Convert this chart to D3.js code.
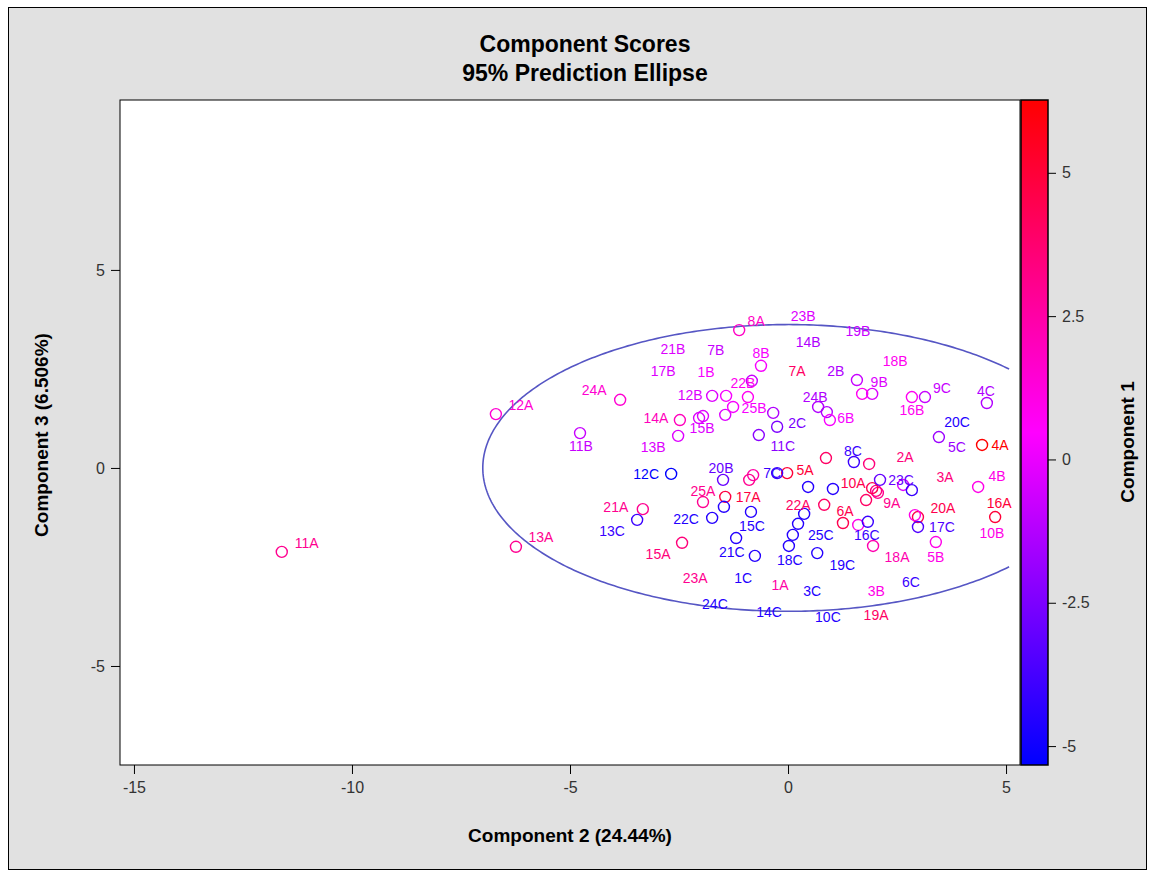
<!DOCTYPE html>
<html>
<head>
<meta charset="utf-8">
<script src="https://cdn.jsdelivr.net/npm/d3@7"></script>
<style>
  body { margin: 0; background: #ffffff; }
  text { font-family: "Liberation Sans", Arial, sans-serif; }
</style>
</head>
<body>
<svg id="chart" width="1155" height="870"></svg>
<script>
// Observation ids (25 subjects x 3 conditions)
const ids = [
  "1A","2A","3A","4A","5A","6A","7A","8A","9A","10A","11A","12A","13A","14A","15A","16A","17A","18A","19A","20A","21A","22A","23A","24A","25A",
  "1B","2B","3B","4B","5B","6B","7B","8B","9B","10B","11B","12B","13B","14B","15B","16B","17B","18B","19B","20B","21B","22B","23B","24B","25B",
  "1C","2C","3C","4C","5C","6C","7C","8C","9C","10C","11C","12C","13C","14C","15C","16C","17C","18C","19C","20C","21C","22C","23C","24C","25C"
];

// Component 2 scores (horizontal)
const comp2 = [
  -0.80, 1.86, 2.02, 4.45, -0.02, 1.26, 0.87, -1.12, 2.06, 1.93, -11.61, -6.70, -6.24, -2.48, -2.43, 4.75, -1.44, 1.95, 1.79, 2.98, -3.33, 0.83, -0.89, -3.85, -1.95,
  -1.42, 0.89, 1.61, 4.36, 3.39, 0.96, -0.83, -0.62, 1.93, 2.91, -4.77, -1.74, -2.52, -0.34, -2.04, 2.84, -1.44, 1.70, 1.58, -1.49, -1.95, -0.92, 2.64, 0.69, -1.26,
  -1.19, -0.25, 0.37, 4.56, 3.46, 2.84, -0.25, 1.51, 3.14, 1.03, -0.67, -2.68, -3.46, 0.23, -0.85, 1.83, 2.98, 0.02, 0.67, 0.46, -0.76, -1.74, 2.11, -1.47, 0.11
];

// Component 3 scores (vertical)
const comp3 = [
  -0.18, 0.10, -0.58, 0.58, -0.13, -1.39, 0.25, 3.48, -0.63, -0.51, -2.12, 1.36, -1.99, 1.21, -1.89, -1.24, -0.73, -1.97, -0.81, -1.24, -1.04, -0.93, -0.30, 1.72, -0.86,
  1.82, 1.41, -1.44, -0.48, -1.87, 1.21, 2.20, 2.58, 1.87, -1.19, 0.88, 1.82, 0.81, 1.39, 1.26, 1.79, 1.34, 1.87, 2.22, -0.30, 1.31, 1.79, -0.43, 1.54, 1.54,
  -1.77, 1.04, -1.16, 1.64, 0.78, -0.56, -0.13, 0.15, 1.79, -0.53, 0.83, -0.15, -1.31, -1.41, -1.11, -1.36, -1.49, -1.97, -2.15, -0.48, -2.22, -1.26, -0.30, -0.98, -1.69
];

// Component 1 scores (colour response)
const comp1 = [
  2.5, 3.5, 3.5, 6.27, 5.0, 4.5, 4.0, 1.8, 3.0, 4.5, 3.0, 1.5, 3.0, 2.0, 3.5, 5.0, 4.8, 2.3, 4.0, 4.5, 3.0, 4.0, 3.0, 1.5, 3.0,
  0.3, -1.3, 1.0, 1.0, 1.0, 0.3, -0.8, 0.3, -0.3, 1.0, -0.8, -0.3, -0.3, -1.3, -0.3, 0.8, -0.3, 0.8, -0.8, -3.0, -0.3, 0.8, -0.3, -1.3, 0.3,
  -4.5, -2.5, -4.5, -1.3, -1.8, -4.0, -4.0, -4.0, -0.8, -4.5, -2.2, -5.33, -4.0, -4.5, -4.5, -4.0, -3.5, -4.5, -4.5, -4.5, -4.5, -4.5, -3.0, -4.5, -4.5
];

// Axis tick values
const xTicks = [-15, -10, -5, 0, 5];
const yTicks = [-5, 0, 5];
const colorTicks = [-5, -2.5, 0, 2.5, 5];

// 95% prediction ellipse (centre and semi-axes in score units)
const ellipseCx = 0, ellipseCy = 0, ellipseRx = 7.0, ellipseRy = 3.62;
const ellipseClipX = 5.07;

// Label placement nudges in pixels, relative to each marker
const labelNudge = {
  "1A":[27,110],"2A":[36,-7],"3A":[69,-14],"4A":[18,0],"5A":[18,-3],"6A":[2,-12],"7A":[-29,-87],"8A":[17,-9],
  "9A":[14,10],"10A":[-19,-5],"11A":[25,-9],"12A":[25,-9],"13A":[25,-10],"14A":[-24,-2],"15A":[-24,11],"16A":[4,-14],
  "17A":[23,0],"18A":[24,11],"19A":[10,115],"20A":[25,-9],"21A":[-27,-2],"22A":[-26,0],"23A":[-54,98],"24A":[-26,-10],"25A":[0,-11],
  "1B":[-20,-24],"2B":[9,-41],"3B":[18,66],"4B":[19,-11],"5B":[0,15],"6B":[16,-2],"7B":[-36,-31],"8B":[0,-13],
  "9B":[7,-12],"10B":[77,18],"11B":[1,13],"12B":[-22,-1],"13B":[-25,11],"14B":[35,-71],"15B":[3,10],"16B":[0,13],
  "17B":[-62,-44],"18B":[33,-33],"19B":[1,-49],"20B":[-2,-12],"21B":[-30,-67],"22B":[-5,-14],"23B":[-100,-169],"24B":[-3,-10],"25B":[21,1],
  "1C":[7,40],"2C":[20,-4],"3C":[8,77],"4C":[-1,-12],"5C":[18,10],"6C":[-1,92],"7C":[-5,0],"8C":[-1,-11],
  "9C":[17,-9],"10C":[-5,128],"11C":[24,11],"12C":[-25,0],"13C":[-25,11],"14C":[-29,88],"15C":[1,14],"16C":[-1,13],
  "17C":[24,0],"18C":[1,14],"19C":[25,12],"20C":[149,-65],"21C":[-23,-4],"22C":[-26,1],"23C":[21,0],"24C":[-9,97],"25C":[28,0]
};

const points = ids.map((id, i) => ({ id, x: comp2[i], y: comp3[i], c: comp1[i] }));

const W = 1155, H = 870;
const plot = { left: 120, right: 1020, top: 100, bottom: 765 };
const svg = d3.select("#chart");

// page background and frame
svg.append("rect").attr("x", 0).attr("y", 0).attr("width", W).attr("height", H).attr("fill", "#ffffff");
svg.append("rect").attr("x", 8.5).attr("y", 7.5).attr("width", W - 17).attr("height", H - 8)
  .attr("fill", "#e1e1e1").attr("stroke", "#000").attr("stroke-width", 1);

const x = d3.scaleLinear().domain([-15.32, 5.32]).range([plot.left, plot.right]);
const y = d3.scaleLinear().domain([-7.5, 9.29]).range([plot.bottom, plot.top]);

const cMin = d3.min(comp1), cMax = d3.max(comp1);
const color = d3.scaleLinear()
  .domain([cMin, (cMin + cMax) / 2, cMax])
  .range(["#0000ff", "#ff00ff", "#ff0000"]);

// plot area
svg.append("rect")
  .attr("x", plot.left).attr("y", plot.top)
  .attr("width", plot.right - plot.left).attr("height", plot.bottom - plot.top)
  .attr("fill", "#ffffff").attr("stroke", "#000").attr("stroke-width", 1);

svg.append("clipPath").attr("id", "plotClip").append("rect")
  .attr("x", plot.left).attr("y", plot.top)
  .attr("width", plot.right - plot.left).attr("height", plot.bottom - plot.top);

// axes (plain hyphen for negative tick labels)
const fmt = d => String(d);
const xAxis = svg.append("g").attr("transform", `translate(0,${plot.bottom})`)
  .call(d3.axisBottom(x).tickValues(xTicks).tickSize(9).tickPadding(8).tickFormat(fmt));
const yAxis = svg.append("g").attr("transform", `translate(${plot.left},0)`)
  .call(d3.axisLeft(y).tickValues(yTicks).tickSize(9).tickPadding(6).tickFormat(fmt));
[xAxis, yAxis].forEach(g => {
  g.select(".domain").remove();
  g.selectAll(".tick line").attr("stroke", "#000");
  g.selectAll(".tick text").attr("fill", "#333").attr("font-size", 16)
    .style("font-family", "'Liberation Sans', Arial, sans-serif");
});

// ellipse
const t0 = Math.acos((ellipseClipX - ellipseCx) / ellipseRx);
const angles = d3.range(0, 361).map(k => t0 + (2 * Math.PI - 2 * t0) * k / 360);
const ellipseLine = d3.line()
  .x(a => x(ellipseCx + ellipseRx * Math.cos(a)))
  .y(a => y(ellipseCy + ellipseRy * Math.sin(a)));
const g = svg.append("g").attr("clip-path", "url(#plotClip)");
g.append("path").datum(angles).attr("d", ellipseLine)
  .attr("fill", "none").attr("stroke", "#5656c4").attr("stroke-width", 1.6);

// markers
g.selectAll("circle.pt").data(points).enter().append("circle")
  .attr("class", "pt")
  .attr("cx", d => x(d.x)).attr("cy", d => y(d.y)).attr("r", 5.5)
  .attr("fill", "none").attr("stroke", d => color(d.c)).attr("stroke-width", 1.4);

// labels
g.selectAll("text.lbl").data(points).enter().append("text")
  .attr("class", "lbl")
  .attr("x", d => x(d.x) + labelNudge[d.id][0])
  .attr("y", d => y(d.y) + labelNudge[d.id][1])
  .attr("text-anchor", "middle").attr("dominant-baseline", "central")
  .attr("font-size", 14).attr("fill", d => color(d.c))
  .text(d => d.id);

// colour ramp legend
const bar = { left: 1021, right: 1048 };
const cy = d3.scaleLinear().domain([cMin, cMax]).range([plot.bottom, plot.top]);
const grad = svg.append("defs").append("linearGradient").attr("id", "ramp")
  .attr("x1", 0).attr("y1", 1).attr("x2", 0).attr("y2", 0);
d3.range(0, 11).forEach(k => {
  const v = cMin + (cMax - cMin) * k / 10;
  grad.append("stop").attr("offset", k / 10).attr("stop-color", color(v));
});
svg.append("rect").attr("x", bar.left).attr("y", plot.top)
  .attr("width", bar.right - bar.left).attr("height", plot.bottom - plot.top)
  .attr("fill", "url(#ramp)").attr("stroke", "#000").attr("stroke-width", 1.5);
const cAxis = svg.append("g").attr("transform", `translate(${bar.right},0)`)
  .call(d3.axisRight(cy).tickValues(colorTicks).tickSize(8).tickPadding(6).tickFormat(fmt));
cAxis.select(".domain").remove();
cAxis.selectAll(".tick line").attr("stroke", "#000");
cAxis.selectAll(".tick text").attr("fill", "#333").attr("font-size", 16)
  .style("font-family", "'Liberation Sans', Arial, sans-serif");

// titles
svg.append("text").attr("x", 585).attr("y", 52).attr("text-anchor", "middle")
  .attr("font-size", 23).attr("font-weight", "bold").attr("fill", "#000").text("Component Scores");
svg.append("text").attr("x", 585).attr("y", 81).attr("text-anchor", "middle")
  .attr("font-size", 23).attr("font-weight", "bold").attr("fill", "#000").text("95% Prediction Ellipse");

svg.append("text").attr("x", 570).attr("y", 842).attr("text-anchor", "middle")
  .attr("font-size", 19).attr("font-weight", "bold").attr("fill", "#000").text("Component 2 (24.44%)");
svg.append("text").attr("transform", "translate(48,435) rotate(-90)").attr("text-anchor", "middle")
  .attr("font-size", 19).attr("font-weight", "bold").attr("fill", "#000").text("Component 3 (6.506%)");
svg.append("text").attr("transform", "translate(1134,442) rotate(-90)").attr("text-anchor", "middle")
  .attr("font-size", 19).attr("font-weight", "bold").attr("fill", "#000").text("Component 1");
</script>
</body>
</html>
